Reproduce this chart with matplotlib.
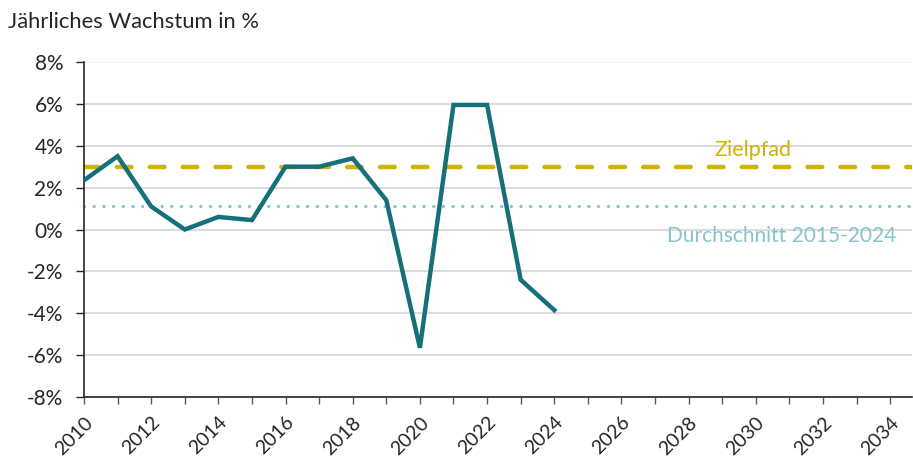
import matplotlib
matplotlib.use("Agg")
import matplotlib.pyplot as plt
import numpy as np

years = list(range(2010, 2025))
growth = [2.35, 3.5, 1.1, 0.0, 0.6, 0.45, 3.0, 3.0, 3.4, 1.4, -5.65, 5.95, 5.95, -2.4, -3.85]
target = 3.0
average = 1.12
xticks = list(range(2010, 2035, 2))
yticks = list(range(-8, 9, 2))

plt.rcParams['font.family'] = ['Lato', 'DejaVu Sans']

fig = plt.figure(figsize=(9.13, 4.61), dpi=100)
ax = fig.add_axes([84/913, 1-397/461, (912-84)/913, (397-62)/461])

ax.set_xlim(2010, 2034.65)
ax.set_ylim(-8, 8)

for y in yticks:
    ax.axhline(y, color='#d9d9d9' if y < 8 else '#f2f2f2', lw=1.3, zorder=0)

ax.axhline(target, color='#D4B106', lw=3.2, ls=(0, (3.3, 4.1)), dash_capstyle='round', zorder=2)
ax.axhline(average, color='#86C4CD', lw=2.4, ls=(0, (0.01, 2.9)), dash_capstyle='round', zorder=2)
ax.plot(years, growth, color='#167079', lw=3.2, solid_joinstyle='miter', zorder=3)

ax.text(2029.9, 3.3, 'Zielpfad', color='#D4B106', fontsize=15.5, ha='center', va='bottom')
ax.text(2030.78, -0.3, 'Durchschnitt 2015-2024', color='#86C4CD', fontsize=15, ha='center', va='center')

ax.set_yticks(yticks)
ax.set_yticklabels([f'{y}%' for y in yticks], fontsize=15, color='#262626')
ax.set_xticks(xticks)
ax.set_xticks(range(2010, 2035), minor=True)
ax.set_xticklabels([str(x) for x in xticks], rotation=45, fontsize=14, color='#262626',
                   ha='right', rotation_mode='anchor')
ax.tick_params(axis='x', which='both', length=5, width=1, color='#595959', pad=7)
ax.tick_params(axis='y', length=6, width=1, color='#262626', pad=9)

for s in ['top', 'right']:
    ax.spines[s].set_visible(False)
ax.spines['left'].set_color('#262626')
ax.spines['bottom'].set_color('#262626')
ax.spines['left'].set_linewidth(1.2)
ax.spines['bottom'].set_linewidth(1.2)

fig.text(8/913, 1-22/461, 'Jährliches Wachstum in %', fontsize=15.8, color='#262626', va='center', ha='left')

fig.savefig('out.png', dpi=100, facecolor='white')
